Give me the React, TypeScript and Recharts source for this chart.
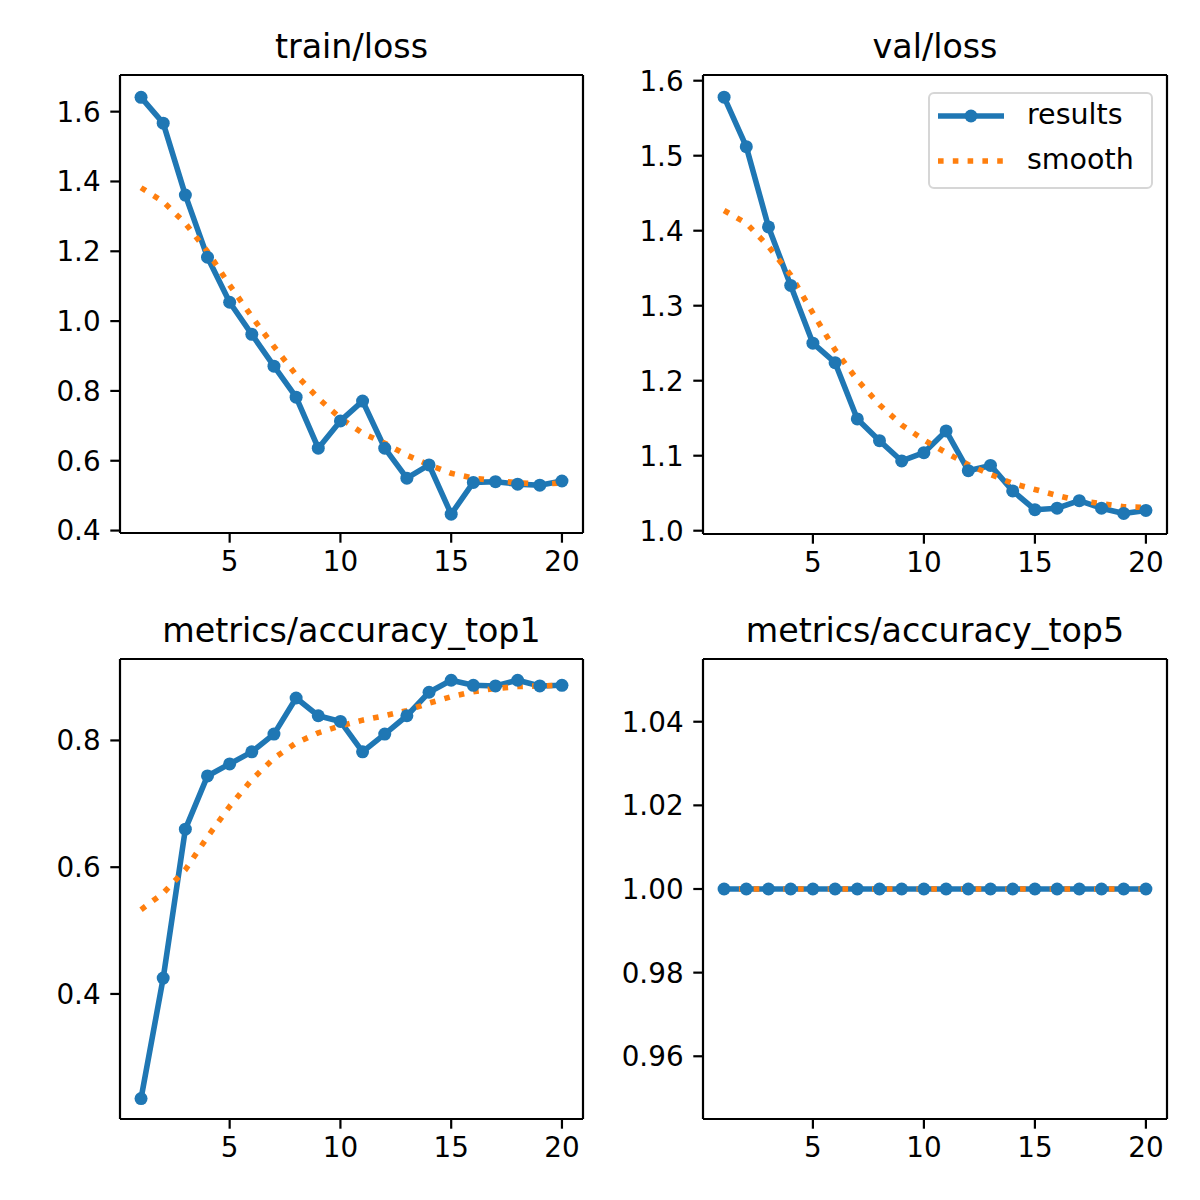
import { Legend, Line, LineChart, XAxis, YAxis } from "recharts";

const epochs = [1, 2, 3, 4, 5, 6, 7, 8, 9, 10, 11, 12, 13, 14, 15, 16, 17, 18, 19, 20];

const trainLoss = [1.641, 1.567, 1.361, 1.183, 1.054, 0.962, 0.871, 0.782, 0.636, 0.714, 0.771, 0.636, 0.55, 0.588, 0.447, 0.538, 0.54, 0.533, 0.53, 0.542];
const trainLossSmooth = [1.382, 1.342, 1.28, 1.199, 1.103, 1.013, 0.927, 0.846, 0.779, 0.722, 0.679, 0.65, 0.616, 0.588, 0.564, 0.55, 0.543, 0.537, 0.533, 0.536];

const valLoss = [1.578, 1.512, 1.405, 1.327, 1.25, 1.224, 1.149, 1.12, 1.093, 1.104, 1.133, 1.08, 1.087, 1.053, 1.028, 1.03, 1.04, 1.03, 1.023, 1.027];
const valLossSmooth = [1.427, 1.41, 1.379, 1.341, 1.29, 1.241, 1.201, 1.168, 1.141, 1.121, 1.104, 1.088, 1.075, 1.063, 1.055, 1.047, 1.04, 1.036, 1.032, 1.031];

const top1 = [0.235, 0.425, 0.66, 0.744, 0.763, 0.782, 0.81, 0.867, 0.839, 0.83, 0.782, 0.81, 0.839, 0.876, 0.895, 0.887, 0.886, 0.895, 0.886, 0.887];
const top1Smooth = [0.533, 0.559, 0.596, 0.648, 0.696, 0.738, 0.772, 0.796, 0.812, 0.823, 0.832, 0.839, 0.847, 0.859, 0.869, 0.877, 0.882, 0.885, 0.886, 0.887];

const top5 = [1, 1, 1, 1, 1, 1, 1, 1, 1, 1, 1, 1, 1, 1, 1, 1, 1, 1, 1, 1];
const top5Smooth = [1, 1, 1, 1, 1, 1, 1, 1, 1, 1, 1, 1, 1, 1, 1, 1, 1, 1, 1, 1];

const xTicks = [5, 10, 15, 20];
const trainLossTicks = [0.4, 0.6, 0.8, 1.0, 1.2, 1.4, 1.6];
const valLossTicks = [1.0, 1.1, 1.2, 1.3, 1.4, 1.5, 1.6];
const top1Ticks = [0.4, 0.6, 0.8];
const top5Ticks = [0.96, 0.98, 1.0, 1.02, 1.04];

const BLUE = "#1f77b4";
const ORANGE = "#ff7f0e";
const FONT = "DejaVu Sans";

const toRows = (ys: number[], smooth: number[]) =>
  epochs.map((epoch, i) => ({ epoch, results: ys[i], smooth: smooth[i] }));

function ValLegend({ payload }: { payload?: any[] }) {
  return (
    <div
      style={{
        boxSizing: "border-box",
        width: 225,
        height: 97,
        border: "2px solid #d6d6d6",
        borderRadius: 6,
        background: "rgba(255,255,255,0.8)",
        fontFamily: FONT,
        fontSize: 28.5,
        color: "#000",
        position: "relative",
      }}
    >
      {(payload || []).map((entry, i) => {
        const dashed = !!entry.payload?.strokeDasharray;
        const cy = i === 0 ? 22 : 67;
        return (
          <div key={entry.value} style={{ position: "absolute", left: 0, top: cy - 20, height: 40, width: 221 }}>
            <svg width={80} height={40} style={{ position: "absolute", left: 0, top: 0 }}>
              <line
                x1={8}
                x2={74}
                y1={20}
                y2={20}
                stroke={dashed ? ORANGE : BLUE}
                strokeWidth={5.6}
                strokeDasharray={dashed ? "5.6 9.2" : undefined}
              />
              {!dashed && <circle cx={41} cy={20} r={6.5} fill={BLUE} />}
            </svg>
            <span style={{ position: "absolute", left: 97, top: 3, lineHeight: "32px" }}>{entry.value}</span>
          </div>
        );
      })}
    </div>
  );
}

type PanelProps = {
  left: number;
  top: number;
  title: string;
  rows: { epoch: number; results: number; smooth: number }[];
  yDomain: [number, number];
  yTicks: number[];
  decimals: number;
  yWidth: number;
  margin: { top: number; right: number; bottom: number; left: number };
  legend?: boolean;
};

function Panel({ left, top, title, rows, yDomain, yTicks, decimals, yWidth, margin, legend }: PanelProps) {
  const axisLine = { stroke: "#000", strokeWidth: 2.2 };
  const tick = { fill: "#000", fontSize: 27.8, fontFamily: FONT };
  // the top and right axes only draw the frame; height/width 1 so they still render
  const m = { ...margin, top: margin.top - 1, right: margin.right - 1 };
  return (
    <div style={{ position: "absolute", left, top }}>
      <LineChart width={600} height={600} data={rows} margin={m}>
        <XAxis
          dataKey="epoch"
          type="number"
          domain={[0.05, 20.95]}
          ticks={xTicks}
          allowDataOverflow
          height={60}
          tick={tick}
          tickSize={9.7}
          tickMargin={9}
          tickLine={axisLine}
          axisLine={axisLine}
        />
        <XAxis
          xAxisId="top"
          dataKey="epoch"
          orientation="top"
          type="number"
          domain={[0.05, 20.95]}
          allowDataOverflow
          height={1}
          tick={false}
          tickLine={false}
          axisLine={axisLine}
          label={{ value: title, position: "top", offset: 15.7, fill: "#000", fontSize: 33.3, fontFamily: FONT }}
        />
        <YAxis
          type="number"
          domain={yDomain}
          ticks={yTicks}
          allowDataOverflow
          width={yWidth}
          tick={tick}
          tickSize={9.7}
          tickMargin={9.7}
          tickLine={axisLine}
          axisLine={axisLine}
          tickFormatter={(v: number) => v.toFixed(decimals)}
        />
        <YAxis
          yAxisId="right"
          orientation="right"
          type="number"
          domain={yDomain}
          allowDataOverflow
          width={1}
          tick={false}
          tickLine={false}
          axisLine={axisLine}
        />
        <Line
          dataKey="results"
          name="results"
          type="linear"
          stroke={BLUE}
          strokeWidth={5.6}
          strokeLinejoin="round"
          dot={{ r: 6.5, fill: BLUE, stroke: "none", strokeWidth: 0 }}
          activeDot={false}
          isAnimationActive={false}
        />
        <Line
          xAxisId="top"
          yAxisId="right"
          dataKey="smooth"
          name="smooth"
          type="linear"
          stroke={ORANGE}
          strokeWidth={5.6}
          strokeDasharray="5.6 9.2"
          dot={false}
          activeDot={false}
          isAnimationActive={false}
        />
        {legend && (
          <Legend
            layout="vertical"
            align="center"
            verticalAlign="middle"
            wrapperStyle={{ left: 328, top: 92, width: 225, height: 97 }}
            content={(props: any) => <ValLegend payload={props.payload} />}
          />
        )}
      </LineChart>
    </div>
  );
}

export default function App() {
  return (
    <div style={{ position: "absolute", left: 0, top: 0, width: 1200, height: 1200, background: "#fff" }}>
      <Panel
        left={0}
        top={0}
        title="train/loss"
        rows={toRows(trainLoss, trainLossSmooth)}
        yDomain={[0.393, 1.705]}
        yTicks={trainLossTicks}
        decimals={1}
        yWidth={120}
        margin={{ top: 75, right: 17, bottom: 7, left: 0 }}
      />
      <Panel
        left={600}
        top={0}
        title="val/loss"
        rows={toRows(valLoss, valLossSmooth)}
        yDomain={[0.9956, 1.6076]}
        yTicks={valLossTicks}
        decimals={1}
        yWidth={103}
        margin={{ top: 75, right: 33, bottom: 6, left: 0 }}
        legend
      />
      <Panel
        left={0}
        top={600}
        title="metrics/accuracy_top1"
        rows={toRows(top1, top1Smooth)}
        yDomain={[0.2027, 0.9285]}
        yTicks={top1Ticks}
        decimals={1}
        yWidth={120}
        margin={{ top: 59, right: 17, bottom: 21, left: 0 }}
      />
      <Panel
        left={600}
        top={600}
        title="metrics/accuracy_top5"
        rows={toRows(top5, top5Smooth)}
        yDomain={[0.945, 1.055]}
        yTicks={top5Ticks}
        decimals={2}
        yWidth={103}
        margin={{ top: 59, right: 33, bottom: 21, left: 0 }}
      />
    </div>
  );
}
